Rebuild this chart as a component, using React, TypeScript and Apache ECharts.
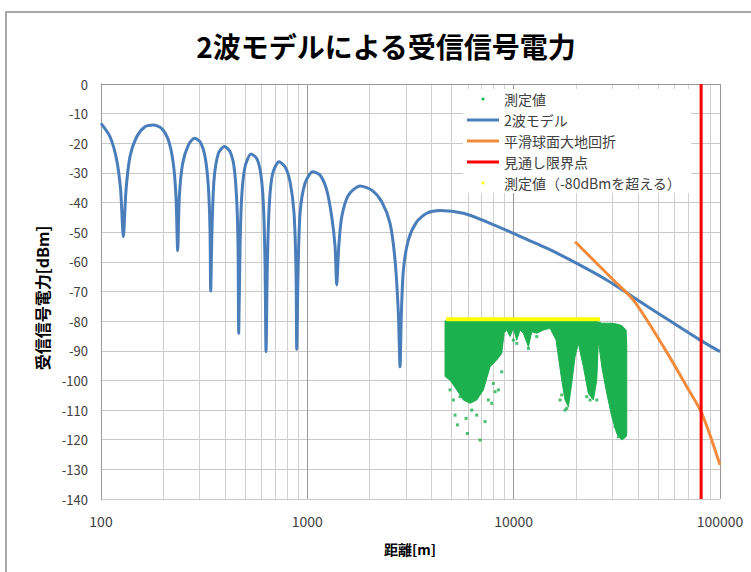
import React, { useEffect, useRef } from "react";
import * as echarts from "echarts";

const titleText = "2波モデルによる受信信号電力";
const xAxisName = "距離[m]";
const yAxisName = "受信信号電力[dBm]";

const seriesNames = ["測定値", "2波モデル", "平滑球面大地回折", "見通し限界点", "測定値（-80dBmを超える）"];

// 2-ray model curve [distance m, dBm]
const twoRayModel: [number, number][] = [
  [100, -13.3], [110.6, -17.8], [119.1, -25.6], [124.5, -35.8], [128.3, -51.5],
  [132.2, -35.8], [138.2, -24.5], [148.9, -17.8], [163.5, -14.4], [179.3, -13.8],
  [196.8, -15.0], [212.1, -18.9], [224.1, -26.8], [230.9, -38.0], [235.3, -56.2],
  [239.7, -38.0], [248.8, -26.8], [265.1, -20.6], [283.4, -18.3], [302.0, -19.5],
  [319.3, -24.5], [331.4, -34.6], [337.6, -49.3], [340.1, -69.8],
  [345.1, -49.3], [352.9, -32.4], [370.4, -23.4], [396.0, -21.1], [422.0, -22.8],
  [441.3, -27.9], [454.6, -39.1], [461.5, -54.9], [465.0, -84.1],
  [472.0, -54.9], [480.8, -38.0], [498.9, -27.9], [533.4, -23.6], [568.3, -25.1],
  [594.2, -30.1], [612.2, -40.3], [623.7, -60.5], [630.7, -90.3],
  [640.2, -60.5], [654.6, -40.3], [679.4, -30.1], [729.3, -26.2], [779.8, -27.9],
  [824.5, -33.0], [862.2, -43.6], [881.7, -63.9], [888.3, -89.5],
  [901.5, -63.9], [921.9, -43.6], [974.6, -33.5], [1062, -29.6], [1152, -30.7],
  [1242, -35.8], [1313, -44.8], [1363, -54.9], [1388, -67.8],
  [1420, -54.9], [1468, -44.8], [1581, -37.5], [1801, -34.4], [2051, -35.8],
  [2294, -39.7], [2517, -47.0], [2661, -59.4], [2762, -77.4], [2814, -95.4],
  [2856, -77.4], [2921, -62.8], [3089, -52.6], [3389, -46.5], [3790, -43.6],
  [4398, -42.7], [5705, -43.6], [7405, -46.5], [9970, -50.4], [14465, -55.4],
  [20220, -60.5], [28250, -66.1], [36660, -71.2], [53190, -78.5], [80100, -86.4],
  [100000, -90.3],
];

// smooth spherical earth diffraction
const diffraction: [number, number][] = [
  [19850, -53.2], [30000, -65.7], [38050, -72.9], [53190, -88.6],
  [69020, -102.1], [81600, -111.1], [100000, -128.5],
];

// line-of-sight limit
const losDistance = 81000;
const losRange = [0, -140];

// measured values: [distance, upper edge, lower edge] of the dense cloud
const measuredBand: [number, number, number][] = [
  [4650, -79.9, -98.7], [4917, -79.9, -99.9], [5300, -79.9, -103.2], [5702, -79.9, -106.6],
  [6147, -79.9, -107.7], [6622, -79.9, -106.6], [7131, -79.9, -103.2], [7685, -79.9, -95.4],
  [8279, -79.9, -93.1], [8756, -79.9, -90.9], [8985, -79.9, -84.1], [9256, -79.9, -83.0],
  [9606, -79.9, -85.2], [9970, -79.9, -82.4], [10350, -79.9, -86.4], [10740, -79.9, -83.0],
  [11145, -79.9, -84.1], [11785, -79.9, -88.6], [12240, -79.9, -83.6], [12940, -79.9, -84.1],
  [13930, -79.9, -83.0], [15013, -79.9, -82.4], [16050, -79.9, -86.4], [16470, -79.9, -92.0],
  [17100, -79.9, -99.9], [17750, -79.9, -106.6], [18420, -79.9, -108.9], [19120, -79.9, -101.0],
  [19840, -79.9, -92.0], [20590, -79.9, -87.5], [21770, -79.9, -95.4], [23020, -79.9, -104.4],
  [24340, -79.9, -106.6], [25280, -79.9, -99.9], [25740, -80.3, -86.4], [26730, -80.7, -95.4],
  [28270, -80.7, -104.4], [29880, -80.7, -112.2], [31600, -81.0, -117.9], [33420, -81.5, -120.1],
  [35060, -83.0, -119.0], [35320, -88.0, -118.0],
];

// scattered measured outliers
const measuredOutliers: [number, number][] = [
  [5200, -111.7], [5336, -115.0], [5880, -112.8], [5966, -117.9], [6872, -120.1],
  [7267, -113.9], [6622, -111.7], [8125, -103.8], [7828, -107.7], [4917, -103.2],
  [5105, -106.6], [8433, -103.2], [18080, -109.4], [17100, -104.9], [25280, -106.6],
  [29880, -110.0], [31010, -115.6], [10350, -87.5], [11790, -89.2],
  [5010, -98.7], [5498, -105.5], [6264, -110.0], [6380, -105.5], [7543, -106.6],
  [7974, -101.0], [8751, -97.1], [16790, -106.6], [17750, -110.0], [22610, -105.5],
  [23460, -106.6], [32190, -119.0], [9970, -86.4], [12940, -85.2],
];

// measured values above -80 dBm
const measuredAbove: [number, number][] = [
  [4700, -79.4], [26200, -79.4],
];

const minorGrid = [
  200, 300, 400, 500, 600, 700, 800, 900,
  2000, 3000, 4000, 5000, 6000, 7000, 8000, 9000,
  20000, 30000, 40000, 50000, 60000, 70000, 80000, 90000,
];

const yMin = -140;
const yMax = 0;
const yStep = 10;

const FONT = '"Noto Sans CJK JP", "Noto Sans", sans-serif';

export default function App() {
  const ref = useRef<HTMLDivElement>(null);
  useEffect(() => {
    if (!ref.current) return;
    const chart = echarts.init(ref.current, null, { renderer: "svg" });
    const green = "#1db04e";
    const option: any = {
      animation: false,
      backgroundColor: "#ffffff",
      textStyle: { fontFamily: FONT },
      grid: { left: 101, right: 31, top: 84, bottom: 73, containLabel: false },
      graphic: [
        {
          type: "rect",
          shape: { x: 6, y: 12, width: 800, height: 700 },
          style: { fill: "none", stroke: "#8c8c8c", lineWidth: 1.5 },
          silent: true,
        },
        {
          type: "text",
          x: 386,
          y: 46,
          style: {
            text: titleText,
            font: `bold 28px ${FONT}`,
            fill: "#000000",
            textAlign: "center",
            textVerticalAlign: "middle",
            align: "center",
            verticalAlign: "middle",
          },
        },
        {
          type: "text",
          x: 42,
          y: 298,
          rotation: Math.PI / 2,
          style: {
            text: yAxisName,
            font: `bold 16px ${FONT}`,
            fill: "#000000",
            textAlign: "center",
            textVerticalAlign: "middle",
            align: "center",
            verticalAlign: "middle",
          },
        },
        {
          type: "text",
          x: 410,
          y: 549,
          style: {
            text: xAxisName,
            font: `bold 14px ${FONT}`,
            fill: "#000000",
            textAlign: "center",
            textVerticalAlign: "middle",
            align: "center",
            verticalAlign: "middle",
          },
        },
      ],
      legend: {
        orient: "vertical",
        left: 463,
        top: 89,
        z: 20,
        itemWidth: 32,
        itemHeight: 3,
        itemGap: 7,
        padding: [3, 10, 3, 4],
        backgroundColor: "#ffffff",
        textStyle: { fontSize: 14, color: "#404040", fontFamily: FONT },
        data: [
          { name: seriesNames[0], icon: "circle" },
          { name: seriesNames[1], icon: "rect" },
          { name: seriesNames[2], icon: "rect" },
          { name: seriesNames[3], icon: "rect" },
          { name: seriesNames[4], icon: "circle" },
        ],
      },
      xAxis: {
        type: "log",
        logBase: 10,
        min: 100,
        max: 100000,
        axisLine: { show: true, lineStyle: { color: "#9a9a9a", width: 1 } },
        axisTick: { show: false },
        axisLabel: {
          fontSize: 14,
          color: "#404040",
          margin: 15,
          fontFamily: FONT,
          formatter: (v: number) => String(Math.round(v)),
        },
        splitLine: { show: true, lineStyle: { color: "#9a9a9a", width: 1 } },
        minorTick: { show: false },
        minorSplitLine: { show: false },
      },
      yAxis: {
        type: "value",
        min: yMin,
        max: yMax,
        interval: yStep,
        axisLine: { show: true, lineStyle: { color: "#9a9a9a", width: 1 } },
        axisTick: { show: false },
        axisLabel: { fontSize: 13, color: "#404040", margin: 13, fontFamily: FONT },
        splitLine: { show: true, lineStyle: { color: "#c8c8c8", width: 1 } },
      },
      series: [
        {
          name: "minor-grid",
          type: "line",
          data: [],
          z: 0,
          silent: true,
          markLine: {
            z: 0,
            silent: true,
            symbol: ["none", "none"],
            label: { show: false },
            animation: false,
            lineStyle: { color: "#d0d0d0", width: 1, type: "solid" },
            emphasis: { disabled: true },
            data: minorGrid.map((v) => ({ xAxis: v })),
          },
        },
        {
          name: seriesNames[0],
          type: "custom",
          z: 10,
          silent: true,
          itemStyle: { color: green },
          encode: { x: 0, y: [1, 2] },
          data: measuredBand,
          renderItem: (params: any, api: any) => {
            if (params.dataIndex !== 0) return null;
            const tops = measuredBand.map((d) => api.coord([d[0], d[1]]));
            const bottoms = measuredBand.map((d) => api.coord([d[0], d[2]])).reverse();
            return {
              type: "polygon",
              shape: { points: tops.concat(bottoms) },
              style: { fill: green, stroke: green, lineWidth: 1 },
            };
          },
        },
        {
          name: seriesNames[0],
          type: "scatter",
          z: 10,
          symbol: "rect",
          symbolSize: 3,
          itemStyle: { color: green },
          data: measuredOutliers,
        },
        {
          name: seriesNames[1],
          type: "line",
          z: 11,
          showSymbol: false,
          symbol: "none",
          smooth: 0.25,
          lineStyle: { color: "#4a7ebb", width: 3, join: "round" },
          itemStyle: { color: "#4a7ebb" },
          data: twoRayModel,
        },
        {
          name: seriesNames[2],
          type: "line",
          z: 12,
          showSymbol: false,
          symbol: "none",
          smooth: 0.3,
          lineStyle: { color: "#f28c3c", width: 3 },
          itemStyle: { color: "#f28c3c" },
          data: diffraction,
        },
        {
          name: seriesNames[3],
          type: "line",
          z: 13,
          showSymbol: false,
          symbol: "none",
          lineStyle: { color: "#ff0000", width: 3 },
          itemStyle: { color: "#ff0000" },
          data: losRange.map((y) => [losDistance, y]),
        },
        {
          name: seriesNames[4],
          type: "line",
          z: 12,
          showSymbol: false,
          symbol: "none",
          lineStyle: { color: "#ffff00", width: 4 },
          itemStyle: { color: "#ffff00" },
          data: measuredAbove,
        },
      ],
    };
    chart.setOption(option);
    return () => chart.dispose();
  }, []);
  return (
    <div
      ref={ref}
      style={{ position: "absolute", left: 0, top: 0, width: 751, height: 572, background: "#fff" }}
    />
  );
}
